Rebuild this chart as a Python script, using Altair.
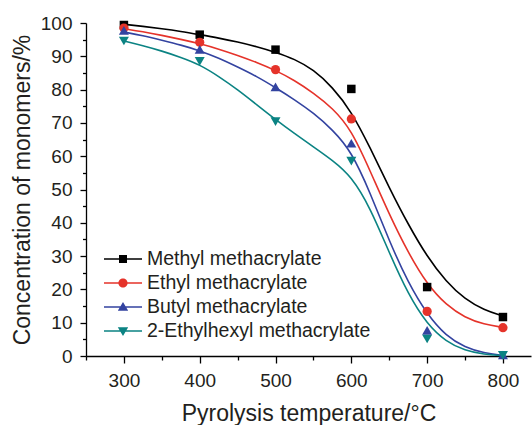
import altair as alt
import pandas as pd

# ---------------- data ----------------
series = ["Methyl methacrylate", "Ethyl methacrylate", "Butyl methacrylate",
          "2-Ethylhexyl methacrylate"]
colors = ["#000000", "#E5332A", "#3343A0", "#0B8383"]
marker_shapes = ["square", "circle", "triangle-up", "triangle-down"]
marker_sizes = [72, 85, 100, 100]

temps = [300, 400, 500, 600, 700, 800]
methyl = [99.4, 96.5, 92.0, 80.2, 20.7, 11.7]
ethyl = [98.5, 94.2, 86.0, 71.2, 13.4, 8.5]
butyl = [97.8, 92.1, 80.8, 63.9, 7.7, 0.3]
ehma = [94.6, 88.5, 70.4, 58.5, 5.1, 0.2]

# fitted curves (every 25 °C)
curve_t = list(range(300, 801, 25))
methyl_fit = [99.6, 99.0, 98.3, 97.5, 96.5, 95.5, 94.3, 92.9, 91.2, 89.2, 86.0,
              80.8, 73.5, 62.5, 50.5, 39.5, 29.8, 22.3, 17.0, 13.8, 12.0]
ethyl_fit = [98.3, 97.4, 96.3, 95.1, 93.8, 92.2, 90.3, 88.2, 85.8, 82.8, 79.0,
             74.5, 68.0, 55.5, 42.5, 31.0, 21.5, 15.3, 11.5, 9.5, 8.6]
butyl_fit = [97.3, 96.2, 94.8, 93.4, 91.7, 89.5, 86.8, 84.0, 80.6, 77.0, 73.0,
             68.0, 61.5, 49.0, 34.5, 22.0, 12.5, 6.0, 2.6, 0.9, 0.2]
ehma_fit = [94.6, 93.2, 91.6, 89.7, 87.5, 84.0, 80.0, 75.5, 71.0, 66.8, 62.8,
            58.8, 54.0, 44.5, 31.0, 18.5, 9.5, 4.3, 1.6, 0.5, 0.1]

x_ticks = list(range(250, 851, 50))
y_ticks = list(range(0, 101, 5))

# legend symbols: line segment + marker (unit coordinates)
bar = "M-1.9,-0.08L1.9,-0.08L1.9,0.08L-1.9,0.08Z"
legend_paths = [
    bar + "M-0.4,-0.4L0.4,-0.4L0.4,0.4L-0.4,0.4Z",
    bar + "M0.46,0A0.46,0.46 0 1,1 -0.46,0A0.46,0.46 0 1,1 0.46,0Z",
    bar + "M0,-0.5L0.52,0.38L-0.52,0.38Z",
    bar + "M0,0.5L-0.52,-0.38L0.52,-0.38Z",
]

points = pd.DataFrame({
    "series": sum([[s] * len(temps) for s in series], []),
    "temp": temps * 4,
    "value": methyl + ethyl + butyl + ehma,
})
curves = pd.DataFrame({
    "series": sum([[s] * len(curve_t) for s in series], []),
    "temp": curve_t * 4,
    "value": methyl_fit + ethyl_fit + butyl_fit + ehma_fit,
})

FONT = "Liberation Sans"
TXT = "#231F20"
LEG_FS = 19.5

xscale = alt.Scale(domain=[250, 837], nice=False, zero=False)
yscale = alt.Scale(domain=[0, 100], nice=False)
cscale = alt.Scale(domain=series, range=colors)

x_axis = alt.Axis(
    title="Pyrolysis temperature/°C", values=x_ticks,
    labelExpr="datum.value % 100 === 0 ? datum.label : ''",
    tickSize={"condition": {"test": "datum.value % 100 === 0", "value": 7}, "value": 4},
    labelOverlap=False, labelFontSize=19, titleFontSize=23, labelPadding=8,
    titlePadding=12, format="d",
)
y_axis = alt.Axis(
    title="Concentration of monomers/%", values=y_ticks,
    labelExpr="datum.value % 10 === 0 ? datum.label : ''",
    tickSize={"condition": {"test": "datum.value % 10 === 0", "value": 6}, "value": 3.5},
    labelOverlap=False, labelFontSize=19, titleFontSize=23, labelPadding=8,
    titlePadding=6, format="d",
)

X = alt.X("temp:Q", scale=xscale, axis=x_axis)
Y = alt.Y("value:Q", scale=yscale, axis=y_axis)

leg = alt.Legend(title=None, orient="none", legendX=27, legendY=226,
                 symbolSize=400, labelOffset=14, rowPadding=4, labelLimit=0,
                 padding=0, labelFontSize=LEG_FS, labelFont=FONT,
                 labelColor=TXT, symbolOpacity=1, symbolStrokeWidth=0)

legend_layer = alt.Chart(points).mark_point(filled=True, opacity=0).encode(
    x=X, y=Y,
    color=alt.Color("series:N", scale=cscale, sort=series, legend=leg),
    shape=alt.Shape("series:N", sort=series,
                    scale=alt.Scale(domain=series, range=legend_paths), legend=leg),
)

lines = alt.Chart(curves).mark_line(interpolate="basis", strokeWidth=1.6).encode(
    x=X, y=Y,
    color=alt.Color("series:N", scale=cscale, legend=None),
    detail="series:N",
)

marker_layers = []
for s, shp, sz in zip(series, marker_shapes, marker_sizes):
    marker_layers.append(
        alt.Chart(points).transform_filter(alt.datum.series == s)
        .mark_point(filled=True, opacity=1, shape=shp, size=sz)
        .encode(
            x=X, y=Y,
            color=alt.Color("series:N", scale=cscale, legend=None),
        )
    )

chart = alt.layer(legend_layer, lines, *marker_layers).properties(
    width=445, height=333,
    padding={"left": 86, "top": 23, "right": 1, "bottom": 69},
    autosize=alt.AutoSizeParams(type="none"),
).configure_view(stroke=None).configure_axis(
    grid=False, domainColor="#000000", tickColor="#000000", domainWidth=1.3,
    tickWidth=1.3, labelColor=TXT, titleColor=TXT, labelFont=FONT, titleFont=FONT,
    titleFontWeight="normal",
).configure_legend(labelFontSize=LEG_FS, labelFont=FONT, labelColor=TXT)

chart.save("out.html", embed_options={"renderer": "svg", "actions": False})
